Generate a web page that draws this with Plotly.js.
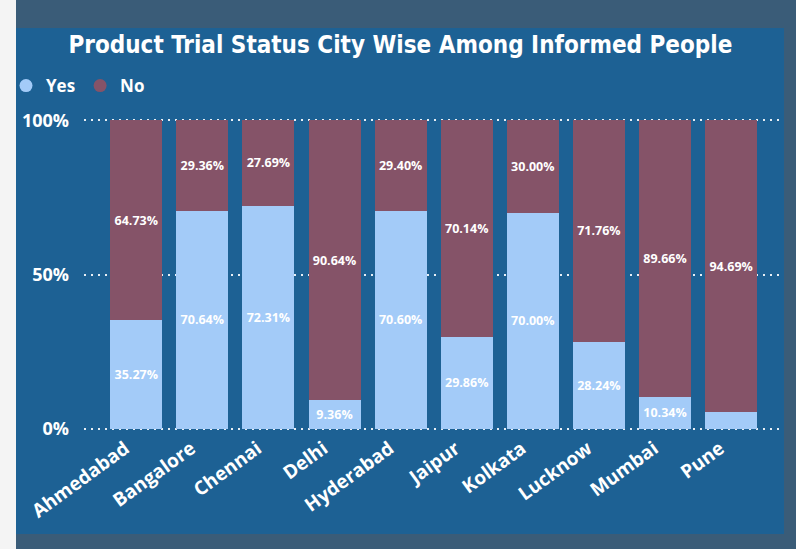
<!DOCTYPE html>
<html>
<head>
<meta charset="utf-8">
<script src="https://cdn.plot.ly/plotly-3.0.1.min.js"></script>
<style>html,body{margin:0;padding:0;background:#3a5c78;}#chart{width:796px;height:549px;}</style>
</head>
<body>
<div id="chart"></div>
<script>
const cities = ["Ahmedabad","Bangalore","Chennai","Delhi","Hyderabad","Jaipur","Kolkata","Lucknow","Mumbai","Pune"];
const yesPct = [35.27, 70.64, 72.31, 9.36, 70.60, 29.86, 70.00, 28.24, 10.34, 5.31];
const noPct  = [64.73, 29.36, 27.69, 90.64, 29.40, 70.14, 30.00, 71.76, 89.66, 94.69];
const yTickVals = [0, 50, 100];
const yTickText = ["0%", "50%", "100%"];

const YES_COLOR = "#a3cbf8";
const NO_COLOR = "#855368";
const PANEL = "#1d6194";
const OUTER = "#3a5c78";

const fmt = v => v.toFixed(2) + "%";
const labelFont = {family: "Open Sans, Noto Sans, sans-serif", size: 12.5, color: "#ffffff", weight: "bold"};

const traces = [
  {type: "bar", x: cities, y: yesPct, name: "Yes", marker: {color: YES_COLOR},
   text: yesPct.map(v => v < 8 ? "" : fmt(v)), textposition: "inside", insidetextanchor: "middle",
   textfont: labelFont, showlegend: false, hoverinfo: "x+y"},
  {type: "bar", x: cities, y: noPct, name: "No", marker: {color: NO_COLOR},
   text: noPct.map(v => v < 8 ? "" : fmt(v)), textposition: "inside", insidetextanchor: "middle",
   textfont: labelFont, showlegend: false, hoverinfo: "x+y"},
  {type: "scatter", mode: "markers", x: [null], y: [null], name: "Yes",
   marker: {color: YES_COLOR, size: 13, symbol: "circle"}, showlegend: true},
  {type: "scatter", mode: "markers", x: [null], y: [null], name: "No",
   marker: {color: NO_COLOR, size: 13, symbol: "circle"}, showlegend: true}
];

// plot area: x 84..782, y ~119..430 (px)
const L = 84, R = 782, T = 119, B = 430, W = 796, H = 549;
const px = v => (v - L) / (R - L);
const py = v => (B - v) / (B - T);

const layout = {
  width: W, height: H,
  margin: {l: L, r: W - R, t: T, b: H - B, pad: 0},
  paper_bgcolor: OUTER,
  plot_bgcolor: "rgba(0,0,0,0)",
  barmode: "stack",
  bargap: 0.213,
  title: {text: "Product Trial Status City Wise Among Informed People",
          font: {family: "DejaVu Sans Condensed, sans-serif", size: 24, color: "#ffffff", weight: "bold"},
          x: 0.503, xref: "container", xanchor: "center", y: 1 - 45 / H, yref: "container", yanchor: "middle"},
  showlegend: true,
  legend: {orientation: "h", xref: "container", yref: "container", x: 6 / W, xanchor: "left",
           y: 1 - 86 / H, yanchor: "middle",
           font: {family: "Open Sans, sans-serif", size: 17, color: "#ffffff", weight: "bold"},
           bgcolor: "rgba(0,0,0,0)", itemclick: false, tracegroupgap: 0, traceorder: "normal"},
  xaxis: {type: "category", range: [-0.79, 9.77], showgrid: false, zeroline: false, showline: false,
          automargin: false, tickangle: -36, ticks: "", ticklabelstandoff: 3, ticklabelshift: -11,
          tickfont: {family: "Open Sans, sans-serif", size: 19, color: "#ffffff", weight: "bold"}},
  yaxis: {range: [-0.4, 100.4], tickvals: yTickVals, ticktext: yTickText, showgrid: true,
          gridcolor: "rgba(255,255,255,0.9)", griddash: "2px,5px", gridwidth: 1.5,
          zeroline: false, showline: false, automargin: false, ticks: "", ticklabelstandoff: 14,
          tickfont: {family: "Open Sans, sans-serif", size: 18, color: "#ffffff", weight: "bold"}},
  shapes: [
    {type: "rect", xref: "paper", yref: "paper", x0: px(16), x1: px(784), y0: py(534), y1: py(28),
     fillcolor: PANEL, line: {width: 0}, layer: "below"},
    {type: "rect", xref: "paper", yref: "paper", x0: px(0), x1: px(16), y0: py(549), y1: py(0),
     fillcolor: "#f4f4f4", line: {width: 0}, layer: "below"}
  ]
};

Plotly.newPlot("chart", traces, layout, {displayModeBar: false, responsive: false});
</script>
</body>
</html>
